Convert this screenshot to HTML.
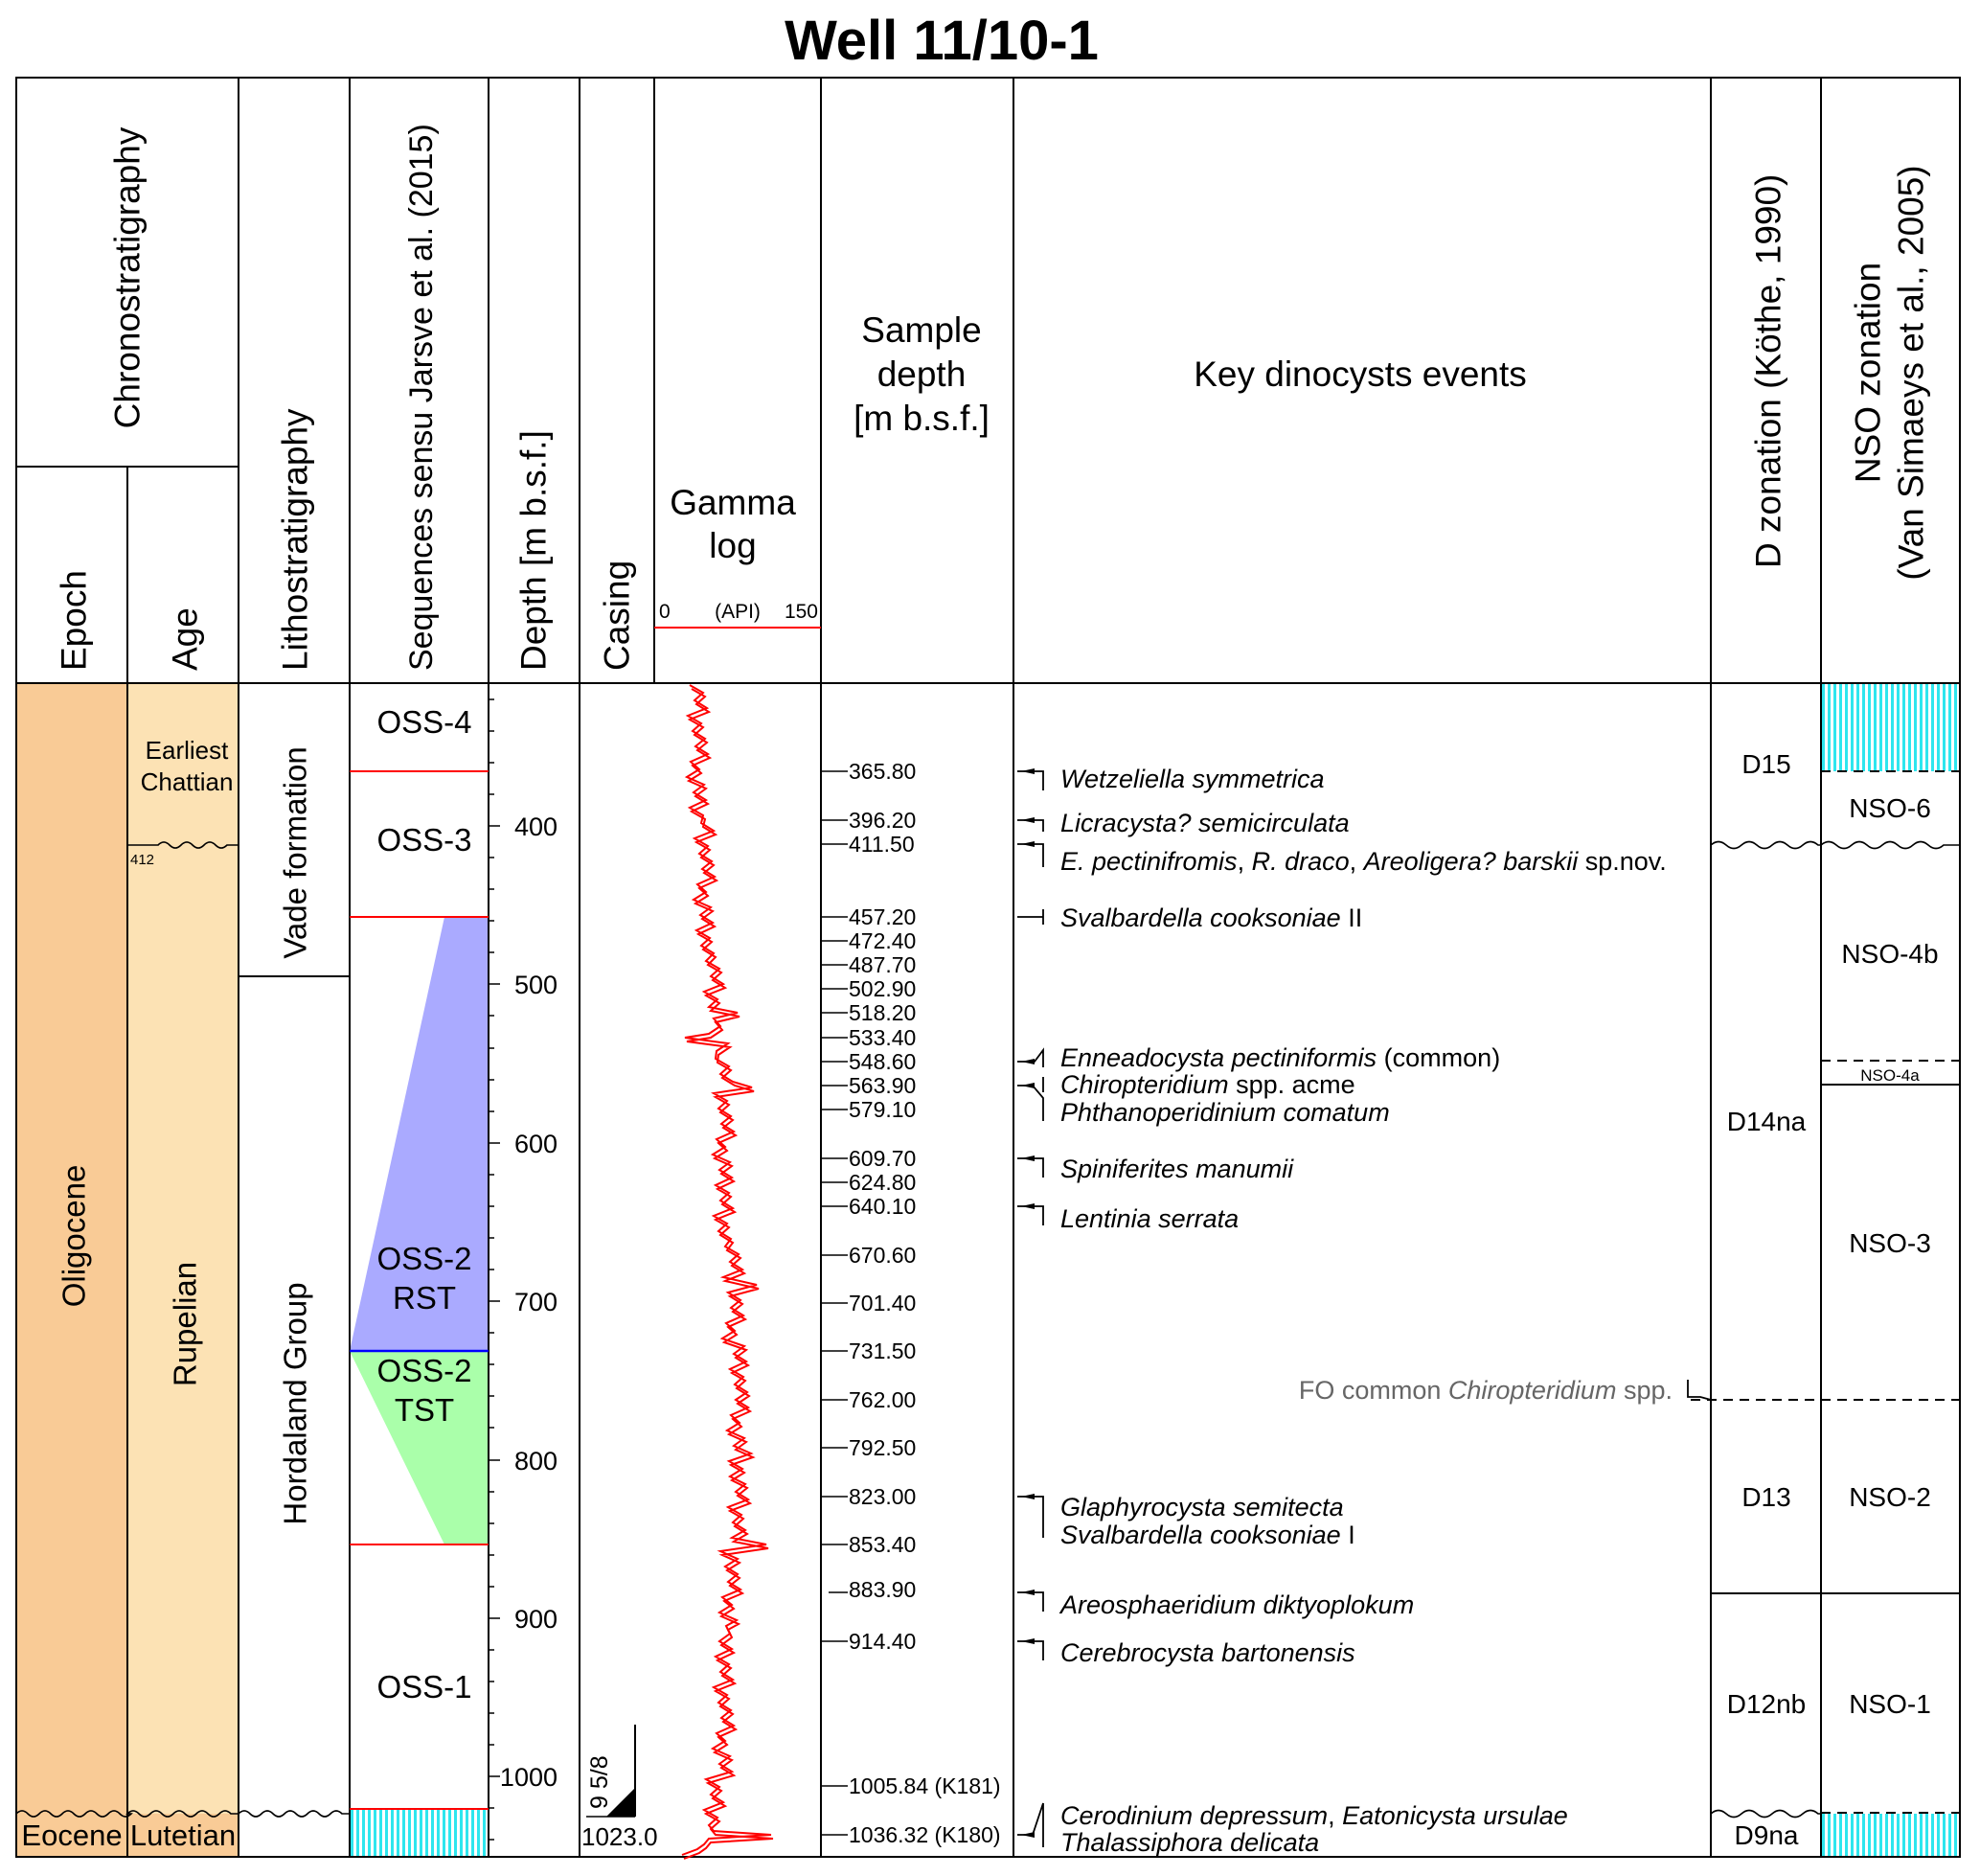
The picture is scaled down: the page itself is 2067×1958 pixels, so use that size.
<!DOCTYPE html>
<html><head><meta charset="utf-8">
<style>
html,body{margin:0;padding:0;background:#fff;}
svg{display:block;font-family:"Liberation Sans",Arial,sans-serif;}
.h{font-size:37px;}
.l{font-size:33px;}
.s{font-size:23px;}
.k{font-size:27px;font-style:italic;}
.n{font-style:normal;}
</style></head><body>
<svg width="2067" height="1958" viewBox="0 0 2067 1958" xmlns="http://www.w3.org/2000/svg">
<defs>
<pattern id="hat" width="6" height="10" patternUnits="userSpaceOnUse">
<rect width="6" height="10" fill="#fff"/><rect x="0" y="0" width="3" height="10" fill="#2ee6ee"/>
</pattern>
</defs>
<text x="983" y="62" font-size="58" font-weight="bold" text-anchor="middle">Well 11/10-1</text>

<!-- fills -->
<rect x="17" y="713" width="116" height="1225" fill="#f9cb96"/>
<rect x="133" y="713" width="116" height="1180" fill="#fce2b4"/>
<rect x="133" y="1893" width="116" height="45" fill="#f9cb96"/>
<polygon points="464,957 510,957 510,1410 365,1410" fill="#aaaaff"/>
<polygon points="365,1410 510,1410 510,1612 464,1612" fill="#aaffaa"/>
<rect x="365" y="1888" width="145" height="50" fill="url(#hat)"/>
<rect x="1901" y="713" width="145" height="92" fill="url(#hat)"/>
<rect x="1901" y="1893" width="145" height="45" fill="url(#hat)"/>

<!-- grid -->
<g stroke="#000" stroke-width="2" fill="none">
<rect x="17" y="81" width="2029" height="1857"/>
<line x1="17" y1="713" x2="2046" y2="713"/>
<line x1="17" y1="487" x2="249" y2="487"/>
<line x1="133" y1="487" x2="133" y2="1938"/>
<line x1="249" y1="81" x2="249" y2="1938"/>
<line x1="365" y1="81" x2="365" y2="1938"/>
<line x1="510" y1="81" x2="510" y2="1938"/>
<line x1="605" y1="81" x2="605" y2="1938"/>
<line x1="683" y1="81" x2="683" y2="713"/>
<line x1="857" y1="81" x2="857" y2="1938"/>
<line x1="1058" y1="81" x2="1058" y2="1938"/>
<line x1="1786" y1="81" x2="1786" y2="1938"/>
<line x1="1901" y1="81" x2="1901" y2="1938"/>
<line x1="249" y1="1019" x2="365" y2="1019"/>
<line x1="1786" y1="1663" x2="2046" y2="1663"/>
<line x1="1901" y1="1132" x2="2046" y2="1132"/>
</g>
<g stroke="#000" stroke-width="2" fill="none" stroke-dasharray="10,7">
<line x1="1901" y1="805" x2="2046" y2="805"/>
<line x1="1901" y1="1107" x2="2046" y2="1107"/>
<line x1="1765" y1="1461" x2="2046" y2="1461"/>
<line x1="1901" y1="1892" x2="2046" y2="1892"/>
</g>
<!-- wavy -->
<g stroke="#000" stroke-width="1.6" fill="none">
<path d="M17 1893 q6 -6 12 0 t12 0 t12 0 t12 0 t12 0 t12 0 t12 0 t12 0 t12 0 t12 0 H133 q6 -6 12 0 t12 0 t12 0 t12 0 t12 0 t12 0 t12 0 t12 0 t12 0 H249 q6 -6 12 0 t12 0 t12 0 t12 0 t12 0 t12 0 t12 0 t12 0 t12 0 H365"/>
<path d="M133 882 H165 q6 -6 12 0 t12 0 t12 0 t12 0 t12 0 t12 0 H249"/>
<path d="M1786 882 q8 -7 16 0 t16 0 t16 0 t16 0 t16 0 t16 0 t16 0 H1901 q8 -7 16 0 t16 0 t16 0 t16 0 t16 0 t16 0 t16 0 t16 0 H2046"/>
<path d="M1786 1893 q8 -7 16 0 t16 0 t16 0 t16 0 t16 0 t16 0 t16 0 H1901"/>
</g>
<g stroke="#f00" stroke-width="2">
<line x1="365" y1="805" x2="510" y2="805"/>
<line x1="365" y1="957" x2="510" y2="957"/>
<line x1="365" y1="1612" x2="510" y2="1612"/>
<line x1="365" y1="1888" x2="510" y2="1888"/>
<line x1="683" y1="655" x2="857" y2="655"/>
</g>
<line x1="365" y1="1410" x2="510" y2="1410" stroke="#00f" stroke-width="2.5"/>

<!-- header texts -->
<g class="h" dominant-baseline="central">
<text transform="translate(133,290) rotate(-90)" text-anchor="middle">Chronostratigraphy</text>
<text transform="translate(77,700) rotate(-90)">Epoch</text>
<text transform="translate(193,700) rotate(-90)">Age</text>
<text transform="translate(308,700) rotate(-90)">Lithostratigraphy</text>
<text transform="translate(440,700) rotate(-90)" font-size="34">Sequences sensu Jarsve et al. (2015)</text>
<text transform="translate(557,700) rotate(-90)">Depth [m b.s.f.]</text>
<text transform="translate(644,700) rotate(-90)">Casing</text>
<text transform="translate(1846,593) rotate(-90)">D zonation (Köthe, 1990)</text>
<text transform="translate(1950,389) rotate(-90)" text-anchor="middle">NSO zonation</text>
<text transform="translate(1995,389) rotate(-90)" text-anchor="middle">(Van Simaeys et al., 2005)</text>
</g>
<g class="h" text-anchor="middle">
<text x="765" y="537">Gamma</text><text x="765" y="582">log</text>
<text x="962" y="357">Sample</text><text x="962" y="403">depth</text><text x="962" y="449">[m b.s.f.]</text>
<text x="1420" y="403">Key dinocysts events</text>
</g>
<text x="688" y="645" font-size="21">0</text>
<text x="770" y="645" font-size="21" text-anchor="middle">(API)</text>
<text x="854" y="645" font-size="21" text-anchor="end">150</text>

<!-- chrono labels -->
<g class="l">
<text transform="translate(77,1290) rotate(-90)" text-anchor="middle" dominant-baseline="central">Oligocene</text>
<text transform="translate(193,1382) rotate(-90)" text-anchor="middle" dominant-baseline="central">Rupelian</text>
<text transform="translate(308,890) rotate(-90)" text-anchor="middle" dominant-baseline="central">Vade formation</text>
<text transform="translate(308,1465) rotate(-90)" text-anchor="middle" dominant-baseline="central">Hordaland Group</text>
<text x="75" y="1926" text-anchor="middle" font-size="31">Eocene</text>
<text x="191" y="1926" text-anchor="middle" font-size="31">Lutetian</text>
<text x="443" y="765" text-anchor="middle">OSS-4</text>
<text x="443" y="888" text-anchor="middle">OSS-3</text>
<text x="443" y="1325" text-anchor="middle">OSS-2</text>
<text x="443" y="1366" text-anchor="middle">RST</text>
<text x="443" y="1442" text-anchor="middle">OSS-2</text>
<text x="443" y="1483" text-anchor="middle">TST</text>
<text x="443" y="1772" text-anchor="middle">OSS-1</text>
</g>
<text x="195" y="792" font-size="26" text-anchor="middle">Earliest</text>
<text x="195" y="825" font-size="26" text-anchor="middle">Chattian</text>
<text x="136" y="902" font-size="15">412</text>

<!-- depth scale -->
<g stroke="#000" stroke-width="1.5">
<line x1="510" y1="730" x2="516" y2="730"/><line x1="510" y1="763" x2="516" y2="763"/><line x1="510" y1="796" x2="516" y2="796"/><line x1="510" y1="829" x2="516" y2="829"/>
<line x1="510" y1="862" x2="522" y2="862"/>
<line x1="510" y1="895" x2="516" y2="895"/><line x1="510" y1="928" x2="516" y2="928"/><line x1="510" y1="961" x2="516" y2="961"/><line x1="510" y1="994" x2="516" y2="994"/>
<line x1="510" y1="1027" x2="522" y2="1027"/>
<line x1="510" y1="1060" x2="516" y2="1060"/><line x1="510" y1="1094" x2="516" y2="1094"/><line x1="510" y1="1127" x2="516" y2="1127"/><line x1="510" y1="1160" x2="516" y2="1160"/>
<line x1="510" y1="1193" x2="522" y2="1193"/>
<line x1="510" y1="1226" x2="516" y2="1226"/><line x1="510" y1="1259" x2="516" y2="1259"/><line x1="510" y1="1292" x2="516" y2="1292"/><line x1="510" y1="1325" x2="516" y2="1325"/>
<line x1="510" y1="1358" x2="522" y2="1358"/>
<line x1="510" y1="1391" x2="516" y2="1391"/><line x1="510" y1="1424" x2="516" y2="1424"/><line x1="510" y1="1457" x2="516" y2="1457"/><line x1="510" y1="1490" x2="516" y2="1490"/>
<line x1="510" y1="1524" x2="522" y2="1524"/>
<line x1="510" y1="1557" x2="516" y2="1557"/><line x1="510" y1="1590" x2="516" y2="1590"/><line x1="510" y1="1623" x2="516" y2="1623"/><line x1="510" y1="1656" x2="516" y2="1656"/>
<line x1="510" y1="1689" x2="522" y2="1689"/>
<line x1="510" y1="1722" x2="516" y2="1722"/><line x1="510" y1="1755" x2="516" y2="1755"/><line x1="510" y1="1788" x2="516" y2="1788"/><line x1="510" y1="1821" x2="516" y2="1821"/>
<line x1="510" y1="1854" x2="522" y2="1854"/>
<line x1="510" y1="1887" x2="516" y2="1887"/><line x1="510" y1="1920" x2="516" y2="1920"/>
</g>
<g font-size="27" text-anchor="end">
<text x="582" y="872">400</text><text x="582" y="1037">500</text><text x="582" y="1203">600</text><text x="582" y="1368">700</text><text x="582" y="1534">800</text><text x="582" y="1699">900</text><text x="582" y="1864">1000</text>
</g>

<!-- casing -->
<line x1="663" y1="1800" x2="663" y2="1896" stroke="#000" stroke-width="2"/>
<polygon points="663,1866 663,1896 633,1896" fill="#000"/>
<line x1="612" y1="1896" x2="663" y2="1896" stroke="#000" stroke-width="1.5"/>
<text transform="translate(634,1888) rotate(-90)" font-size="25">9 5/8</text>
<text x="607" y="1926" font-size="26">1023.0</text>

<!-- gamma -->
<g stroke="#f00" stroke-width="2" fill="none">
<polyline id="g1" points="
720,715 734,723 725,731 738,739 718,747 732,755 723,763 736,771 726,779 739,787 721,795 730,803 717,811 735,819 724,827 737,835 720,843 734,851
732,859 745,867 725,875 739,883 730,891 743,899 733,907 746,915 728,923 737,931 724,939 742,947 731,955 744,963 727,971 741,979 732,987 745,995
737,1003 751,1011 742,1019 755,1027 735,1035 749,1043 740,1051 770,1057 745,1063 752,1071 740,1079 715,1083 760,1089 748,1097
747,1105 761,1113 752,1121 765,1129 785,1135 745,1141 759,1149 750,1157 763,1165 753,1173 766,1181 748,1189 757,1197 744,1205 762,1213 751,1221 764,1229 747,1237 761,1245 752,1253 765,1261 745,1269 759,1277 750,1285 763,1293
757,1301 771,1309 762,1317 775,1325 755,1333 790,1341 760,1349 773,1357 763,1365 776,1373 758,1381 767,1389 754,1397
777,1405 766,1413 779,1421 762,1429 776,1437 767,1445 780,1453 768,1461 781,1469 763,1477 772,1485 759,1493 777,1501 766,1509 784,1517 761,1525 775,1533 762,1541 778,1549 768,1557 781,1565 760,1573 774,1581 765,1589 778,1597
764,1605 800,1612 752,1619 770,1627 757,1635 770,1643 760,1651 773,1659 754,1667 764,1675 751,1683 769,1691 758,1697
762,1705 751,1713 764,1721 747,1729 761,1737 752,1745 765,1753 745,1761 759,1769 750,1777 763,1785 753,1793 766,1801 748,1809 757,1817 744,1825 762,1833 751,1841 764,1849
737,1857 751,1865 742,1873 755,1881 735,1889 749,1897 740,1905 745,1911 805,1915 740,1919 735,1925 728,1930 712,1936"/>
<use href="#g1" transform="translate(2,4)"/>
</g>

<!-- sample depths -->
<g stroke="#000" stroke-width="1.5">
<line x1="857" y1="805" x2="885" y2="805"/><line x1="857" y1="856" x2="885" y2="856"/><line x1="857" y1="881" x2="885" y2="881"/>
<line x1="857" y1="957" x2="885" y2="957"/><line x1="857" y1="982" x2="885" y2="982"/><line x1="857" y1="1007" x2="885" y2="1007"/>
<line x1="857" y1="1032" x2="885" y2="1032"/><line x1="857" y1="1057" x2="885" y2="1057"/><line x1="857" y1="1083" x2="885" y2="1083"/>
<line x1="857" y1="1108" x2="885" y2="1108"/><line x1="857" y1="1133" x2="885" y2="1133"/><line x1="857" y1="1158" x2="885" y2="1158"/>
<line x1="857" y1="1209" x2="885" y2="1209"/><line x1="857" y1="1234" x2="885" y2="1234"/><line x1="857" y1="1259" x2="885" y2="1259"/>
<line x1="857" y1="1310" x2="885" y2="1310"/><line x1="857" y1="1360" x2="885" y2="1360"/><line x1="857" y1="1410" x2="885" y2="1410"/>
<line x1="857" y1="1461" x2="885" y2="1461"/><line x1="857" y1="1511" x2="885" y2="1511"/><line x1="857" y1="1562" x2="885" y2="1562"/>
<line x1="857" y1="1612" x2="885" y2="1612"/><line x1="865" y1="1662" x2="885" y2="1662"/><line x1="857" y1="1713" x2="885" y2="1713"/>
<line x1="857" y1="1864" x2="885" y2="1864"/><line x1="857" y1="1915" x2="885" y2="1915"/>
</g>
<g class="s">
<text x="886" y="813">365.80</text><text x="886" y="864">396.20</text><text x="886" y="889">411.50</text>
<text x="886" y="965">457.20</text><text x="886" y="990">472.40</text><text x="886" y="1015">487.70</text>
<text x="886" y="1040">502.90</text><text x="886" y="1065">518.20</text><text x="886" y="1091">533.40</text>
<text x="886" y="1116">548.60</text><text x="886" y="1141">563.90</text><text x="886" y="1166">579.10</text>
<text x="886" y="1217">609.70</text><text x="886" y="1242">624.80</text><text x="886" y="1267">640.10</text>
<text x="886" y="1318">670.60</text><text x="886" y="1368">701.40</text><text x="886" y="1418">731.50</text>
<text x="886" y="1469">762.00</text><text x="886" y="1519">792.50</text><text x="886" y="1570">823.00</text>
<text x="886" y="1620">853.40</text><text x="886" y="1667">883.90</text><text x="886" y="1721">914.40</text>
<text x="886" y="1872">1005.84 (K181)</text><text x="886" y="1923">1036.32 (K180)</text>
</g>

<!-- event markers -->
<g stroke="#000" stroke-width="1.8" fill="none">
<path d="M1062 805 H1089 V825"/><path d="M1062 856 H1089 V868"/><path d="M1062 881 H1089 V905"/>
<path d="M1062 957 H1089 M1089 949 V965"/>
<path d="M1062 1108 H1080 L1089 1096 V1114"/>
<path d="M1062 1133 H1078 L1089 1146 V1170 M1089 1124 V1140"/>
<path d="M1062 1209 H1089 V1229"/><path d="M1062 1259 H1089 V1279"/>
<path d="M1062 1562 H1089 V1605"/><path d="M1062 1662 H1089 V1682"/><path d="M1062 1713 H1089 V1733"/>
<path d="M1062 1915 H1078 L1089 1882 V1928"/>
<path d="M1762 1440 V1458 H1775 L1786 1461"/>
</g>
<g fill="#000">
<polygon points="1066,805 1080,802 1080,808"/><polygon points="1066,856 1080,853 1080,859"/><polygon points="1066,881 1080,878 1080,884"/>
<polygon points="1066,1108 1080,1105 1080,1111"/><polygon points="1066,1133 1080,1130 1080,1136"/>
<polygon points="1066,1209 1080,1206 1080,1212"/><polygon points="1066,1259 1080,1256 1080,1262"/>
<polygon points="1066,1562 1080,1559 1080,1565"/><polygon points="1066,1662 1080,1659 1080,1665"/><polygon points="1066,1713 1080,1710 1080,1716"/>
<polygon points="1066,1915 1080,1912 1080,1918"/>
</g>
<g class="k">
<text x="1107" y="822">Wetzeliella symmetrica</text>
<text x="1107" y="868">Licracysta? semicirculata</text>
<text x="1107" y="908">E. pectinifromis<tspan class="n">, </tspan>R. draco<tspan class="n">, </tspan>Areoligera? barskii<tspan class="n"> sp.nov.</tspan></text>
<text x="1107" y="967">Svalbardella cooksoniae<tspan class="n"> II</tspan></text>
<text x="1107" y="1113">Enneadocysta pectiniformis<tspan class="n"> (common)</tspan></text>
<text x="1107" y="1141">Chiropteridium<tspan class="n"> spp. acme</tspan></text>
<text x="1107" y="1170">Phthanoperidinium comatum</text>
<text x="1107" y="1229">Spiniferites manumii</text>
<text x="1107" y="1281">Lentinia serrata</text>
<text x="1107" y="1582">Glaphyrocysta semitecta</text>
<text x="1107" y="1611">Svalbardella cooksoniae<tspan class="n"> I</tspan></text>
<text x="1107" y="1684">Areosphaeridium diktyoplokum</text>
<text x="1107" y="1734">Cerebrocysta bartonensis</text>
<text x="1107" y="1904">Cerodinium depressum<tspan class="n">, </tspan>Eatonicysta ursulae</text>
<text x="1107" y="1932">Thalassiphora delicata</text>
<text x="1746" y="1460" text-anchor="end" fill="#666"><tspan class="n">FO common </tspan>Chiropteridium<tspan class="n"> spp.</tspan></text>
</g>

<!-- zones -->
<g font-size="28" text-anchor="middle">
<text x="1844" y="807">D15</text><text x="1844" y="1180">D14na</text><text x="1844" y="1572">D13</text>
<text x="1844" y="1788">D12nb</text><text x="1844" y="1925">D9na</text>
<text x="1973" y="853">NSO-6</text><text x="1973" y="1005">NSO-4b</text><text x="1973" y="1307">NSO-3</text>
<text x="1973" y="1572">NSO-2</text><text x="1973" y="1788">NSO-1</text>
</g>
<text x="1973" y="1128" font-size="17" text-anchor="middle">NSO-4a</text>
</svg>
</body></html>
